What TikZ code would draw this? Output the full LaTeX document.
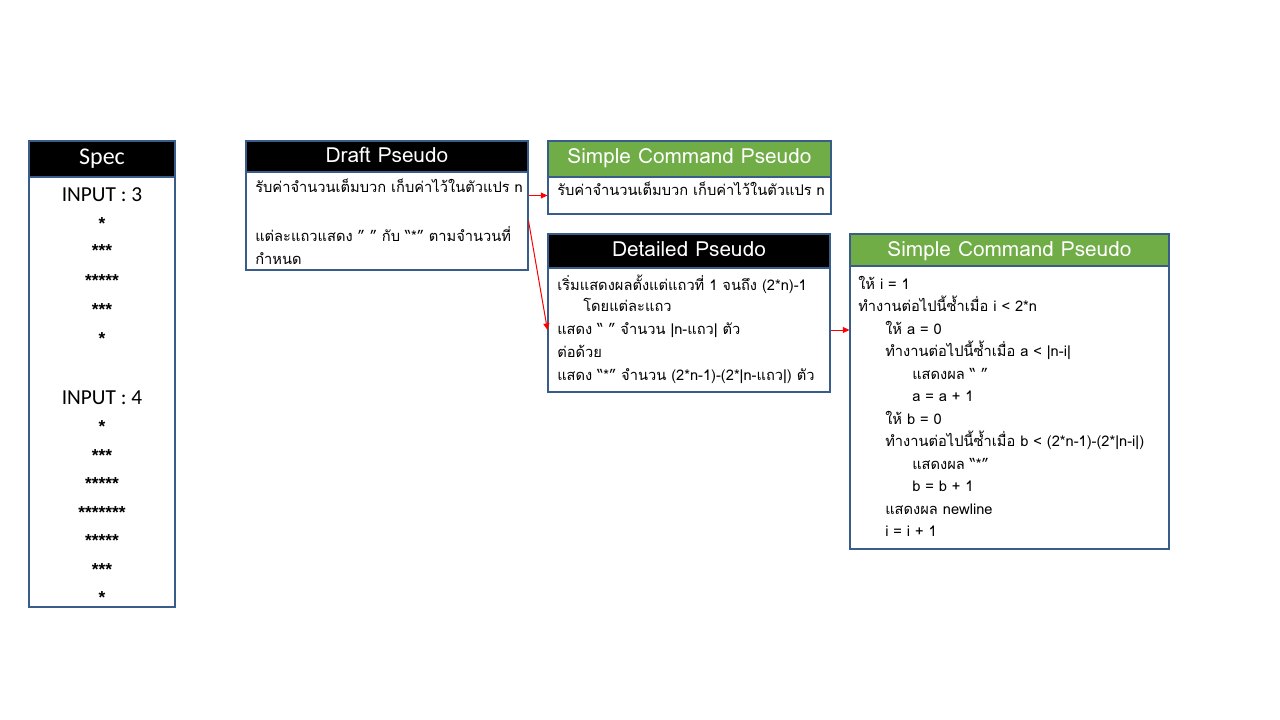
\documentclass[tikz,border=0pt]{standalone}
\usepackage{fontspec}
\usetikzlibrary{arrows.meta,fit}
\newfontfamily\thaifont[Script=Thai]{Loma}
\newfontfamily\calfont{Carlito}
\newfontfamily\starfont{Liberation Sans}
\definecolor{bord}{HTML}{385D8A}
\definecolor{hgreen}{HTML}{70AD47}
\definecolor{ared}{HTML}{FF0000}
\tikzset{
  boxbody/.style={draw=bord,line width=0.8pt,fill=white,inner sep=0pt},
  hdrblack/.style={draw=bord,line width=0.8pt,fill=black,inner sep=0pt},
  hdrgreen/.style={draw=bord,line width=0.8pt,fill=hgreen,inner sep=0pt},
  hdrtext/.style={anchor=base,inner sep=0pt,text=white,font=\thaifont\fontsize{15.6}{18}\selectfont},
  spechdrtext/.style={anchor=base,inner sep=0pt,text=white,font=\calfont\fontsize{18}{21}\selectfont},
  bodytext/.style={anchor=base west,inner sep=0pt,font=\thaifont\fontsize{11}{14}\selectfont},
  spectext/.style={anchor=base,inner sep=0pt,font=\calfont\fontsize{16}{19}\selectfont},
  startext/.style={anchor=base,inner sep=0pt,font=\starfont\bfseries\fontsize{13}{16}\selectfont},
  arr/.style={draw=ared,line width=0.75pt,-{Triangle[length=5pt,width=4.5pt]}}
}
\begin{document}
\begin{tikzpicture}[x=0.75pt,y=-0.75pt]
\useasboundingbox[fill=white] (0,0) rectangle (1280,720);
% Spec
\node[boxbody,fit={(29,177)(175,607)}] (specb) {};
\node[hdrblack,fit={(29,141)(175,177)}] (spech) {};
\node[spechdrtext] (spect) at (102,165) {Spec};
\node[spectext] (in3) at (102,202) {INPUT :\ 3};
\node[startext] (s31) at (102,229) {*};
\node[startext] (s32) at (102,257) {***};
\node[startext] (s33) at (102,286) {*****};
\node[startext] (s34) at (102,315) {***};
\node[startext] (s35) at (102,344) {*};
\node[spectext] (in4) at (102,404) {INPUT : 4};
\node[startext] (s41) at (102,432) {*};
\node[startext] (s42) at (102,461) {***};
\node[startext] (s43) at (102,489) {*****};
\node[startext] (s44) at (102,518) {*******};
\node[startext] (s45) at (102,546) {*****};
\node[startext] (s46) at (102,575) {***};
\node[startext] (s47) at (102,603) {*};
% Draft
\node[boxbody,fit={(246,172)(528,270)}] (draftb) {};
\node[hdrblack,fit={(246,141)(528,172)}] (drafth) {};
\node[hdrtext] (draftt) at (387,163) {Draft Pseudo};
\node[bodytext] (d1) at (255,193) {รับค่าจำนวนเต็มบวก เก็บค่าไว้ในตัวแปร n};
\node[bodytext] (d2) at (255,242) {แต่ละแถวแสดง ” ” กับ “*” ตามจำนวนที่};
\node[bodytext] (d3) at (255,264) {กำหนด};
% Simple command (top)
\node[boxbody,fit={(548,177)(831,214)}] (sc1b) {};
\node[hdrgreen,fit={(548,141)(831,177)}] (sc1h) {};
\node[hdrtext] (sc1t) at (689.5,164) {Simple Command Pseudo};
\node[bodytext] (c1) at (557,196) {รับค่าจำนวนเต็มบวก เก็บค่าไว้ในตัวแปร n};
% Detailed
\node[boxbody,fit={(548,268)(830,392)}] (detb) {};
\node[hdrblack,fit={(548,234)(830,268)}] (deth) {};
\node[hdrtext] (dett) at (689,257) {Detailed Pseudo};
\node[bodytext] (e1) at (557,290) {เริ่มแสดงผลตั้งแต่แถวที่ 1 จนถึง (2*n)-1};
\node[bodytext] (e2) at (583,311) {โดยแต่ละแถว};
\node[bodytext] (e3) at (557,334) {แสดง “ ” จำนวน |n-แถว| ตัว};
\node[bodytext] (e4) at (557,357) {ต่อด้วย};
\node[bodytext] (e5) at (557,380) {แสดง “*” จำนวน (2*n-1)-(2*|n-แถว|) ตัว};
% Simple command (right)
\node[boxbody,fit={(850,266)(1169,549)}] (rb) {};
\node[hdrgreen,fit={(850,234)(1169,266)}] (rh) {};
\node[hdrtext] (rt) at (1009.5,257) {Simple Command Pseudo};
\node[bodytext] (r1) at (858,289) {ให้ i = 1};
\node[bodytext] (r2) at (858,311.5) {ทำงานต่อไปนี้ซ้ำเมื่อ i < 2*n};
\node[bodytext] (r3) at (885,334) {ให้ a = 0};
\node[bodytext] (r4) at (885,356.5) {ทำงานต่อไปนี้ซ้ำเมื่อ a < |n-i|};
\node[bodytext] (r5) at (912,379) {แสดงผล “ ”};
\node[bodytext] (r6) at (912,401.5) {a = a + 1};
\node[bodytext] (r7) at (885,424) {ให้ b = 0};
\node[bodytext] (r8) at (885,446.5) {ทำงานต่อไปนี้ซ้ำเมื่อ b < (2*n-1)-(2*|n-i|)};
\node[bodytext] (r9) at (912,469) {แสดงผล “*”};
\node[bodytext] (r10) at (912,491.5) {b = b + 1};
\node[bodytext] (r11) at (885,514) {แสดงผล newline};
\node[bodytext] (r12) at (885,536.5) {i = i + 1};
% arrows
\draw[arr] (draftb.east |- sc1b.west) -- (sc1b.west);
\draw[arr] (draftb.east) -- (detb.west);
\draw[arr] (detb.east) -- (rb.west |- detb.east);
\end{tikzpicture}
\end{document}
